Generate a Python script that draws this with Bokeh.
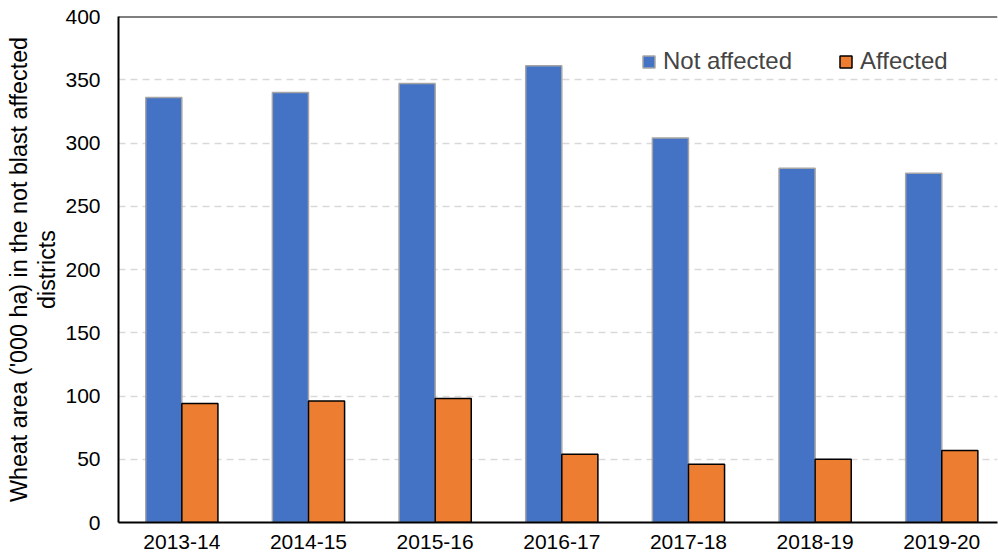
from bokeh.plotting import figure
from bokeh.models import (ColumnDataSource, Range1d, FixedTicker, Span, Legend, LegendItem, LinearAxis)
from bokeh.transform import dodge
from bokeh.embed import file_html
from bokeh.resources import INLINE

years = ["2013-14", "2014-15", "2015-16", "2016-17", "2017-18", "2018-19", "2019-20"]
not_affected = [336, 340, 347, 361, 304, 280, 276]
affected = [94, 96, 98, 54, 46, 50, 57]
ylabel_lines = ["Wheat area ('000 ha) in the not blast affected", "districts"]

FONT = "Liberation Sans"

src = ColumnDataSource(dict(x=list(range(len(years))), na=not_affected, a=affected))

p = figure(width=998, height=559, output_backend="svg", toolbar_location=None,
           x_range=Range1d(-0.5, 6.44), y_range=Range1d(0, 400),
           min_border_left=118, min_border_right=1, min_border_top=16, min_border_bottom=37)
p.outline_line_color = None
p.background_fill_color = "white"
p.border_fill_color = "white"

w = 0.285
r1 = p.vbar(x=dodge("x", -w / 2), top="na", width=w, source=src,
            fill_color="#4472C4", line_color="#A5A5A5", line_width=1.5)
r2 = p.vbar(x=dodge("x", w / 2), top="a", width=w, source=src,
            fill_color="#ED7D31", line_color="black", line_width=1.5)

# axes
p.xaxis.ticker = FixedTicker(ticks=list(range(len(years))))
p.xaxis.major_label_overrides = {i: y for i, y in enumerate(years)}
p.yaxis.ticker = FixedTicker(ticks=list(range(0, 401, 50)))
for ax in (p.xaxis[0], p.yaxis[0]):
    ax.axis_line_color = "black"
    ax.axis_line_width = 2
    ax.major_tick_line_color = None
    ax.minor_tick_line_color = None
    ax.major_tick_out = 0
    ax.major_tick_in = 0
    ax.minor_tick_out = 0
    ax.minor_tick_in = 0
    ax.major_label_text_font = FONT
    ax.major_label_text_font_size = "21px"
    ax.major_label_text_color = "black"
p.xaxis.major_label_standoff = 12
p.yaxis.major_label_standoff = 18

# wrapped y-axis title: inner line on the main axis, outer line on a bare extra axis
p.yaxis.axis_label = ylabel_lines[1]
p.yaxis.axis_label_standoff = 2
outer = LinearAxis(ticker=FixedTicker(ticks=[]), axis_label=ylabel_lines[0],
                   axis_line_color=None, major_tick_line_color=None,
                   minor_tick_line_color=None, major_tick_out=0, major_tick_in=0,
                   minor_tick_out=0, minor_tick_in=0, major_label_standoff=0,
                   axis_label_standoff=0)
p.add_layout(outer, "left")
for ax in (p.yaxis[0], outer):
    ax.axis_label_text_font = FONT
    ax.axis_label_text_font_size = "23.3px"
    ax.axis_label_text_font_style = "normal"
    ax.axis_label_text_color = "black"

p.xgrid.grid_line_color = None
p.ygrid.grid_line_color = "#D9D9D9"
p.ygrid.grid_line_width = 1.5
p.ygrid.grid_line_dash = "7 5"

p.add_layout(Span(location=400, dimension="width", line_color="black", line_width=2))

legend = Legend(items=[LegendItem(label="Not affected", renderers=[r1]),
                       LegendItem(label="Affected", renderers=[r2])],
                orientation="horizontal", location=(523, 447),
                border_line_color=None, background_fill_alpha=0,
                label_text_font=FONT, label_text_font_size="24px",
                glyph_width=15, glyph_height=15, spacing=46, padding=0,
                label_standoff=7)
p.add_layout(legend, "center")

open("out.html", "w").write(file_html(p, INLINE))
